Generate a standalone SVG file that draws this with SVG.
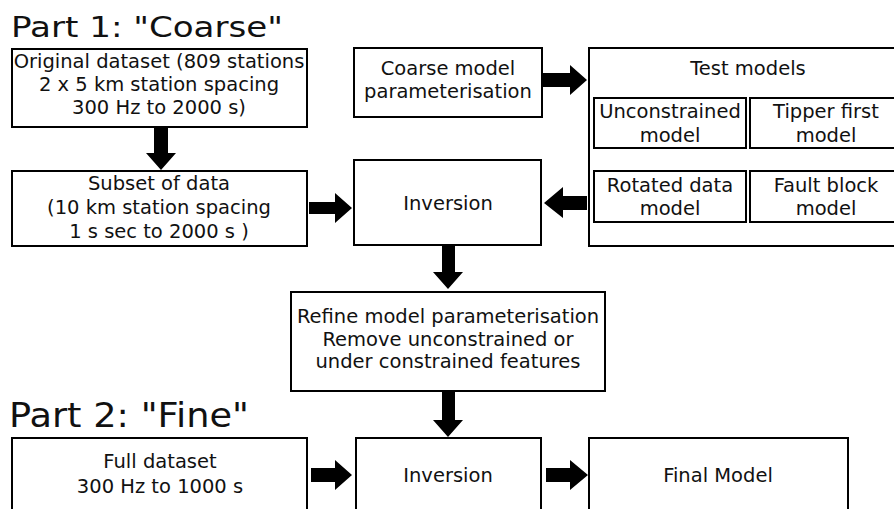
<svg xmlns="http://www.w3.org/2000/svg" width="894" height="509" viewBox="0 0 894 509">
  <style>
    .box { fill: #ffffff; stroke: #000000; stroke-width: 2; }
    .lbl { font-family: "DejaVu Sans", Verdana, sans-serif; font-size: 19.5px; fill: #111111; text-anchor: middle; }
    .title { font-family: "DejaVu Sans", Verdana, sans-serif; fill: #111111; }
    .arrow { fill: #000000; stroke: none; }
  </style>

  <rect x="0" y="0" width="894" height="509" fill="#ffffff"/>

  <!-- Section headings -->
  <text class="title" x="11" y="37" font-size="29" textLength="272" lengthAdjust="spacingAndGlyphs">Part 1: "Coarse"</text>
  <text class="title" x="9" y="427" font-size="34" textLength="240" lengthAdjust="spacingAndGlyphs">Part 2: "Fine"</text>

  <!-- Block arrows -->
  <g id="connectors">
    <!-- original dataset -> subset (down) -->
    <polygon class="arrow" points="154,127 168,127 168,153 176,153 161,170 146,153 154,153"/>
    <!-- subset -> inversion (right) -->
    <polygon class="arrow" points="309,202 335,202 335,193 352,208 335,223 335,214 309,214"/>
    <!-- coarse model parameterisation -> test models (right) -->
    <polygon class="arrow" points="543,73 570,73 570,65 587,80 570,95 570,87 543,87"/>
    <!-- test models -> inversion (left) -->
    <polygon class="arrow" points="587,196 563,196 563,187 544,203 563,218 563,210 587,210"/>
    <!-- inversion -> refine (down) -->
    <polygon class="arrow" points="442,245 455,245 455,272 463,272 448,289 433,272 442,272"/>
    <!-- refine -> inversion (part 2, down) -->
    <polygon class="arrow" points="442,391 455,391 455,420 463,420 448,437 433,420 442,420"/>
    <!-- full dataset -> inversion (right) -->
    <polygon class="arrow" points="311,468 335,468 335,460 352,475 335,490 335,482 311,482"/>
    <!-- inversion -> final model (right) -->
    <polygon class="arrow" points="546,468 570,468 570,460 588,475 570,490 570,482 546,482"/>
  </g>

  <g id="original-dataset">
    <rect class="box" x="12" y="49" width="295" height="78"/>
    <text class="lbl" x="159" y="68">Original dataset (809 stations</text>
    <text class="lbl" x="159" y="91">2 x 5 km station spacing</text>
    <text class="lbl" x="159" y="114">300 Hz to 2000 s)</text>
  </g>

  <g id="subset-of-data">
    <rect class="box" x="12" y="171" width="295" height="75"/>
    <text class="lbl" x="159" y="190">Subset of data</text>
    <text class="lbl" x="159" y="214">(10 km station spacing</text>
    <text class="lbl" x="159" y="238">1 s sec to 2000 s )</text>
  </g>

  <g id="coarse-parameterisation">
    <rect class="box" x="354" y="48" width="188" height="69"/>
    <text class="lbl" x="448" y="75">Coarse model</text>
    <text class="lbl" x="448" y="98">parameterisation</text>
  </g>

  <g id="test-models">
    <rect class="box" x="589" y="48" width="320" height="198"/>
    <text class="lbl" x="748" y="75">Test models</text>
    <g id="unconstrained-model">
      <rect class="box" x="594" y="98" width="152" height="50"/>
      <text class="lbl" x="670" y="118">Unconstrained</text>
      <text class="lbl" x="670" y="142">model</text>
    </g>
    <g id="tipper-first-model">
      <rect class="box" x="750" y="98" width="152" height="50"/>
      <text class="lbl" x="826" y="118">Tipper first</text>
      <text class="lbl" x="826" y="142">model</text>
    </g>
    <g id="rotated-data-model">
      <rect class="box" x="594" y="171" width="152" height="51"/>
      <text class="lbl" x="670" y="192">Rotated data</text>
      <text class="lbl" x="670" y="215">model</text>
    </g>
    <g id="fault-block-model">
      <rect class="box" x="750" y="171" width="152" height="51"/>
      <text class="lbl" x="826" y="192">Fault block</text>
      <text class="lbl" x="826" y="215">model</text>
    </g>
  </g>

  <g id="inversion-coarse">
    <rect class="box" x="354" y="160" width="187" height="85"/>
    <text class="lbl" x="448" y="210">Inversion</text>
  </g>

  <g id="refine-parameterisation">
    <rect class="box" x="291" y="292" width="314" height="99"/>
    <text class="lbl" x="448" y="323">Refine model parameterisation</text>
    <text class="lbl" x="448" y="346">Remove unconstrained or</text>
    <text class="lbl" x="448" y="368">under constrained features</text>
  </g>

  <g id="full-dataset">
    <rect class="box" x="12" y="438" width="295" height="80"/>
    <text class="lbl" x="160" y="468">Full dataset</text>
    <text class="lbl" x="160" y="493">300 Hz to 1000 s</text>
  </g>

  <g id="inversion-fine">
    <rect class="box" x="356" y="438" width="185" height="80"/>
    <text class="lbl" x="448" y="482">Inversion</text>
  </g>

  <g id="final-model">
    <rect class="box" x="589" y="438" width="259" height="80"/>
    <text class="lbl" x="718" y="482">Final Model</text>
  </g>
</svg>
